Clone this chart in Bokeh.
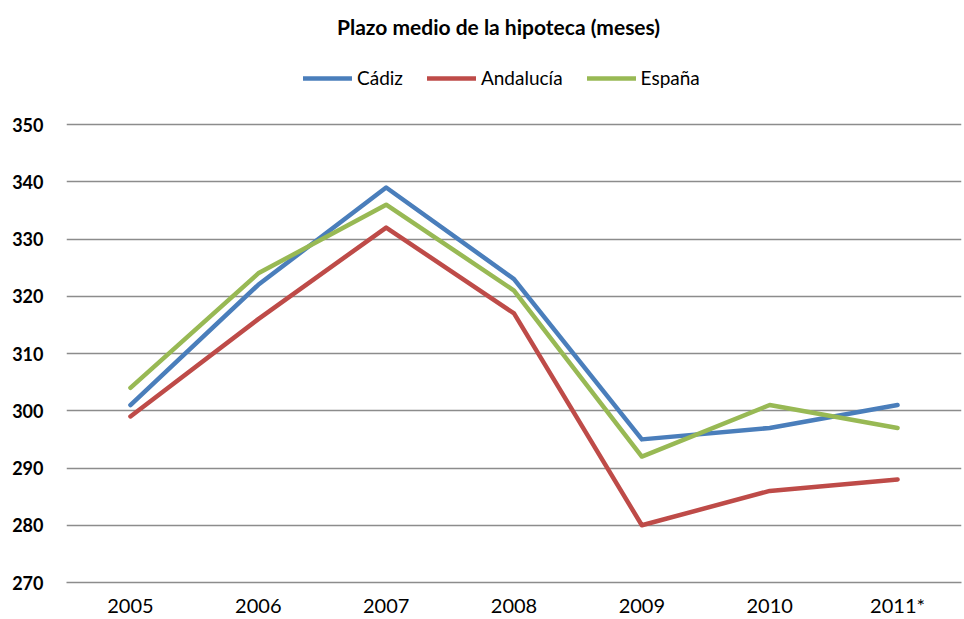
from bokeh.plotting import figure
from bokeh.models import FactorRange, Range1d, FixedTicker, Legend, LegendItem, Label
from bokeh.embed import file_html
from bokeh.resources import INLINE

years = ["2005", "2006", "2007", "2008", "2009", "2010", "2011*"]
cadiz = [301, 322, 339, 323, 295, 297, 301]
andalucia = [299, 316, 332, 317, 280, 286, 288]
espana = [304, 324, 336, 321, 292, 301, 297]
y_ticks = [270, 280, 290, 300, 310, 320, 330, 340, 350]
title_text = "Plazo medio de la hipoteca (meses)"

FONT = "Lato"

p = figure(width=962, height=619, x_range=FactorRange(factors=years, range_padding=0),
           y_range=Range1d(270, 371.66), output_backend="svg", toolbar_location=None,
           min_border_left=66, min_border_right=1, min_border_bottom=37, min_border_top=0,
           title_location=None)
p.outline_line_color = None
p.background_fill_color = "white"

p.add_layout(Label(x=3.379, y=367.2, text=title_text, text_align="center",
                   text_baseline="alphabetic", text_font=FONT, text_font_size="21px",
                   text_font_style="bold", text_color="black"))

lw = 4.5
r1 = p.line(years, cadiz, line_color="#4A7EBB", line_width=lw, line_cap="round", line_join="round")
r2 = p.line(years, andalucia, line_color="#BE4B48", line_width=lw, line_cap="round", line_join="round")
r3 = p.line(years, espana, line_color="#98B954", line_width=lw, line_cap="round", line_join="round")

legend = Legend(items=[LegendItem(label="Cádiz", renderers=[r1]),
                       LegendItem(label="Andalucía", renderers=[r2]),
                       LegendItem(label="España", renderers=[r3])],
                orientation="horizontal", location=(237, 493),
                glyph_width=49, glyph_height=16, label_standoff=5, spacing=24,
                label_text_font=FONT, label_text_font_size="19px", label_text_color="black",
                border_line_color=None, background_fill_alpha=0,
                margin=0, padding=0)
p.add_layout(legend)

p.yaxis.ticker = FixedTicker(ticks=y_ticks)
p.yaxis.axis_line_color = None
p.yaxis.major_tick_line_color = None
p.yaxis.minor_tick_line_color = None
p.yaxis.major_tick_out = 0
p.yaxis.major_tick_in = 0
p.yaxis.major_label_text_font = FONT
p.yaxis.major_label_text_font_size = "18px"
p.yaxis.major_label_text_font_style = "bold"
p.yaxis.major_label_text_color = "black"
p.yaxis.major_label_standoff = 23

p.xaxis.axis_line_color = "#8c8c8c"
p.xaxis.axis_line_width = 1.5
p.xaxis.major_tick_line_color = None
p.xaxis.minor_tick_line_color = None
p.xaxis.major_tick_out = 0
p.xaxis.major_tick_in = 0
p.xaxis.major_label_text_font = FONT
p.xaxis.major_label_text_font_size = "20px"
p.xaxis.major_label_text_color = "black"
p.xaxis.major_label_standoff = 10

p.xgrid.grid_line_color = None
p.ygrid.grid_line_color = "#8c8c8c"
p.ygrid.grid_line_width = 1.5

open("out.html", "w").write(file_html(p, INLINE))
